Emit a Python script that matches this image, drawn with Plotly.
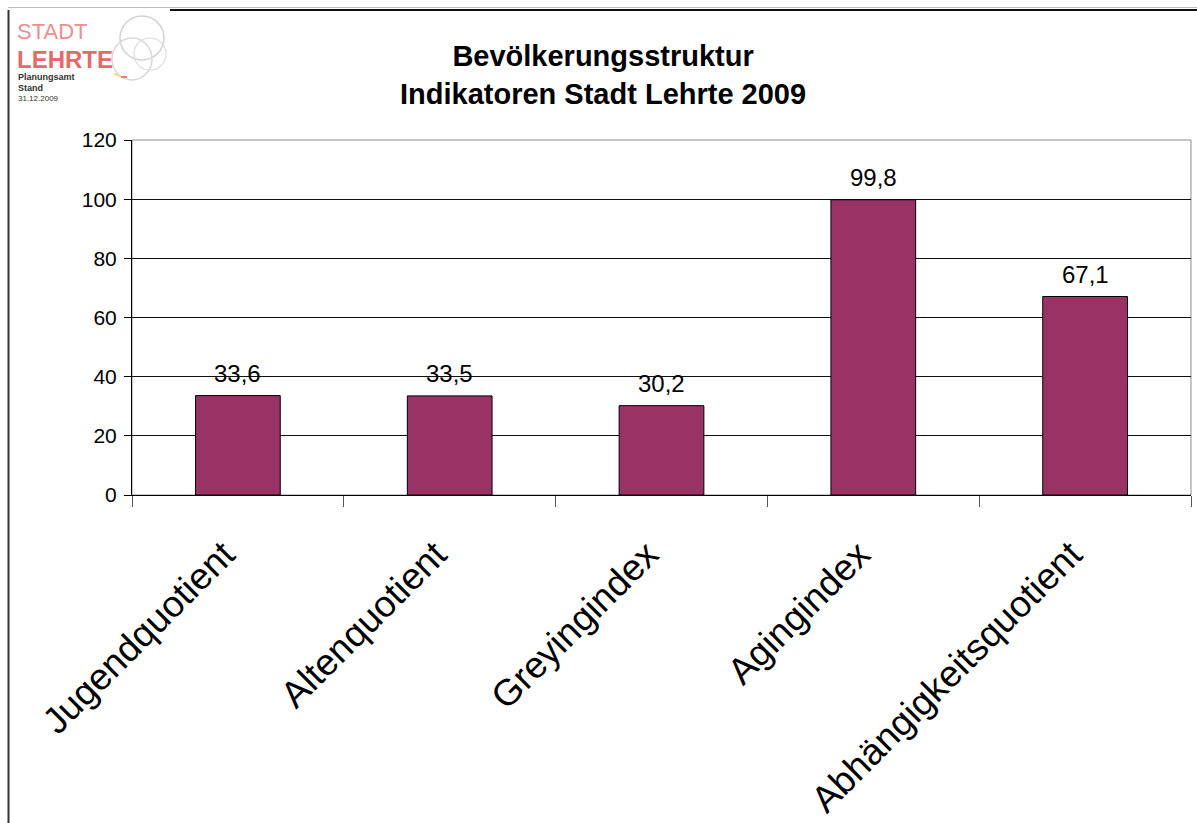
import plotly.graph_objects as go

categories = ["Jugendquotient", "Altenquotient", "Greyingindex", "Agingindex", "Abhängigkeitsquotient"]
values = [33.6, 33.5, 30.2, 99.8, 67.1]
y_ticks = [0, 20, 40, 60, 80, 100, 120]
title_lines = ["Bevölkerungsstruktur", "Indikatoren Stadt Lehrte 2009"]

W, H = 1197, 823
L, R, T, B = 132, 1191, 140, 495  # plot area in pixels


def px(x):
    return (x - L) / (R - L)


def py(y):
    return (B - y) / (B - T)


fig = go.Figure()
fig.add_trace(go.Bar(
    x=categories, y=values,
    marker=dict(color="#993366", line=dict(color="#000000", width=1)),
    width=0.4,
    cliponaxis=False,
))

shapes = [
    dict(type="rect", xref="paper", yref="paper", x0=0, x1=1, y0=0, y1=1,
         line=dict(color="#8c8c8c", width=1), layer="below"),
    dict(type="line", xref="paper", yref="paper", x0=px(8.5), x1=px(8.5), y0=py(10), y1=py(823),
         line=dict(color="#333333", width=2)),
    dict(type="line", xref="paper", yref="paper", x0=px(170), x1=px(1197), y0=py(10), y1=py(10),
         line=dict(color="#111111", width=2)),
    dict(type="line", xref="paper", yref="paper", x0=px(8), x1=px(1197), y0=py(7.5), y1=py(7.5),
         line=dict(color="#bbbbbb", width=1)),
    # logo circles
    dict(type="circle", xref="paper", yref="paper", x0=px(120), x1=px(164), y0=py(16), y1=py(60),
         line=dict(color="#d2d2d2", width=1.5)),
    dict(type="circle", xref="paper", yref="paper", x0=px(112), x1=px(152), y0=py(38), y1=py(80),
         line=dict(color="#d8d8d8", width=1.5)),
    dict(type="circle", xref="paper", yref="paper", x0=px(134), x1=px(166), y0=py(38), y1=py(70),
         line=dict(color="#dcdcdc", width=1.2)),
    dict(type="line", xref="paper", yref="paper", x0=px(114), x1=px(120), y0=py(74), y1=py(76),
         line=dict(color="#f2e07a", width=2)),
    dict(type="line", xref="paper", yref="paper", x0=px(121), x1=px(127), y0=py(77), y1=py(77),
         line=dict(color="#e88080", width=2)),
]

annotations = [
    dict(text="<b>" + title_lines[0] + "</b><br><b>" + title_lines[1] + "</b>",
         xref="paper", yref="paper", x=px(603), y=py(75), xanchor="center", yanchor="middle",
         showarrow=False, align="center",
         font=dict(family="Liberation Sans, Arial", size=29, color="#000000")),
    dict(text="STADT", xref="paper", yref="paper", x=px(15), y=py(32), xanchor="left", yanchor="middle",
         showarrow=False, font=dict(family="Liberation Sans, Arial", size=22, color="#ec8f8f")),
    dict(text="<b>LEHRTE</b>", xref="paper", yref="paper", x=px(15), y=py(59), xanchor="left", yanchor="middle",
         showarrow=False, font=dict(family="Liberation Sans, Arial", size=24, color="#e36b6b")),
    dict(text="<b>Planungsamt</b>", xref="paper", yref="paper", x=px(16), y=py(76.5), xanchor="left", yanchor="middle",
         showarrow=False, font=dict(family="Liberation Sans, Arial", size=9, color="#333333")),
    dict(text="<b>Stand</b>", xref="paper", yref="paper", x=px(16), y=py(88), xanchor="left", yanchor="middle",
         showarrow=False, font=dict(family="Liberation Sans, Arial", size=9, color="#333333")),
    dict(text="31.12.2009", xref="paper", yref="paper", x=px(16), y=py(98.5), xanchor="left", yanchor="middle",
         showarrow=False, font=dict(family="Liberation Sans, Arial", size=8, color="#333333")),
]

# data labels above bars
for c, v in zip(categories, values):
    annotations.append(dict(
        x=c, y=v, xref="x", yref="y", text=f"{v:.1f}".replace(".", ","),
        showarrow=False, yanchor="bottom", yshift=7,
        font=dict(family="Liberation Sans, Arial", size=24, color="#000000"),
    ))

fig.update_layout(
    width=W, height=H,
    margin=dict(l=L, r=W - R, t=T, b=H - B, pad=0, autoexpand=False),
    paper_bgcolor="#ffffff", plot_bgcolor="#ffffff",
    showlegend=False,
    shapes=shapes,
    annotations=annotations,
    font=dict(family="Liberation Sans, Arial", color="#000000"),
    xaxis=dict(
        type="category", tickangle=-45, automargin=False,
        tickfont=dict(family="Liberation Sans, Arial", size=37, color="#000000"),
        showline=True, linecolor="#000000", linewidth=1,
        ticks="outside", tickson="boundaries", ticklen=11, tickcolor="#555555",
        ticklabelstandoff=22, ticklabelshift=-14,
        showgrid=False, zeroline=False,
    ),
    yaxis=dict(
        range=[0, 120], tickvals=y_ticks, automargin=False,
        tickfont=dict(family="Liberation Sans, Arial", size=21, color="#000000"),
        showline=True, linecolor="#000000", linewidth=1,
        ticks="outside", ticklen=7, tickcolor="#000000",
        ticklabelstandoff=3,
        showgrid=True, gridcolor="#111111", gridwidth=1,
        zeroline=False,
    ),
)

fig.write_html("out.html")
